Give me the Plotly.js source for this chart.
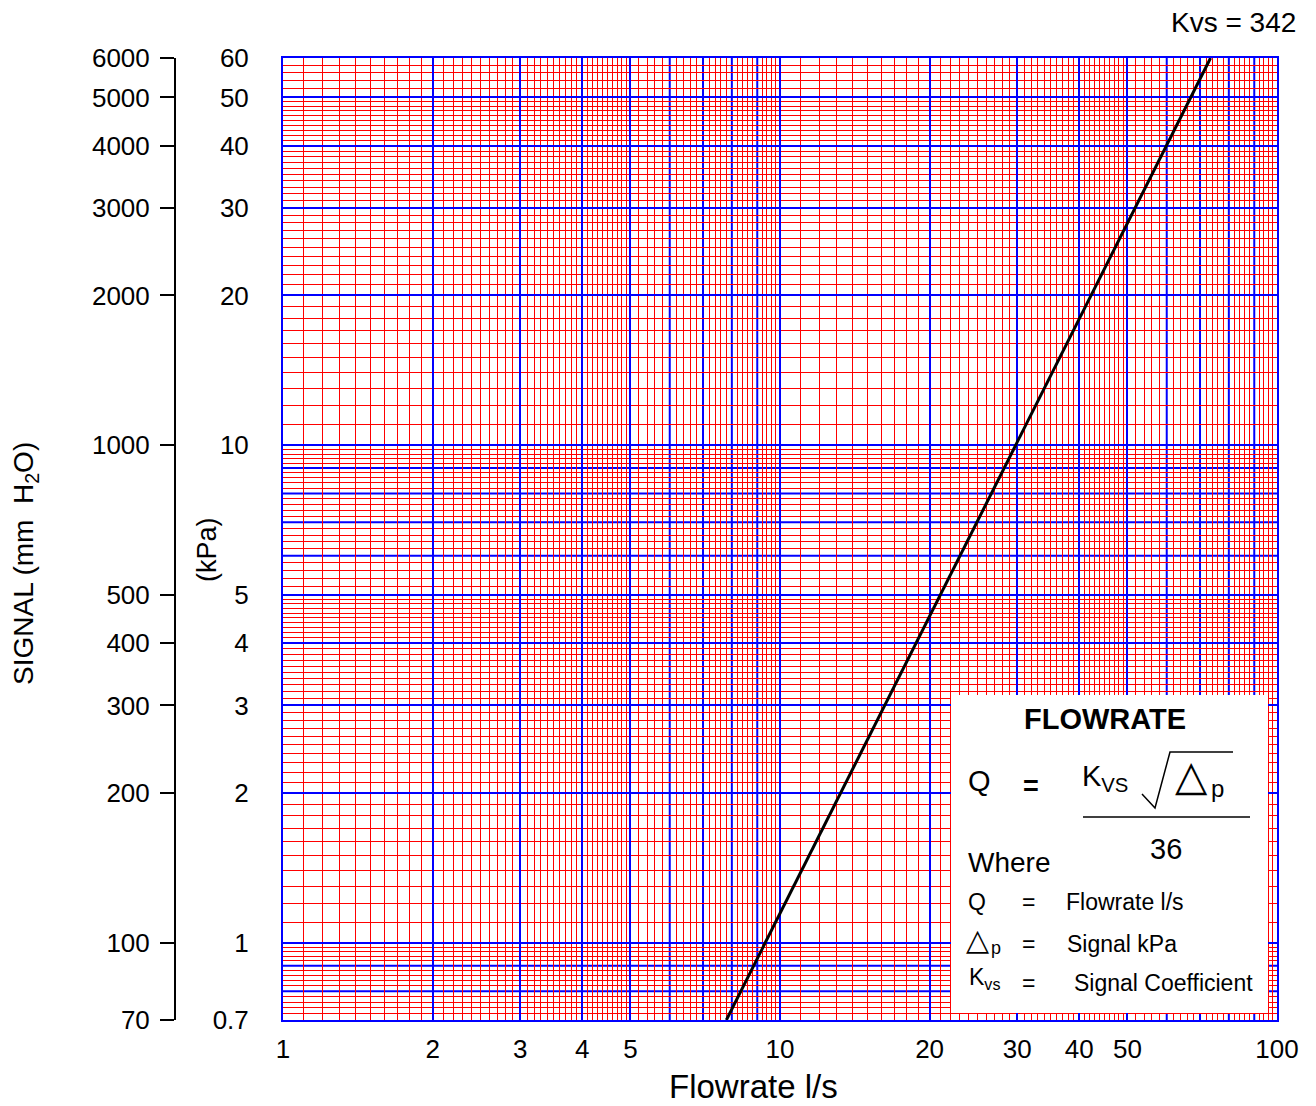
<!DOCTYPE html>
<html>
<head>
<meta charset="utf-8">
<script src="https://cdn.plot.ly/plotly-3.0.1.min.js"></script>
<style>html,body{margin:0;padding:0;background:#fff;}#chart{width:1316px;height:1106px;}</style>
</head>
<body>
<div id="chart"></div>
<script>
// ---- data ----
const flowX   = [7.8, 73.5];     // flowrate l/s at the two ends of the Kvs = 342 line
const flowKpa = [0.7, 60];       // signal kPa at the same ends
const xTicks  = [1,2,3,4,5,10,20,30,40,50,100];              // labelled x ticks (blue lines)
const xBlueExtra = [6,7,8,9,60,70,80,90];                     // unlabelled blue x lines
const yTicks  = [0.7,1,2,3,4,5,10,20,30,40,50,60];            // labelled kPa ticks (blue lines)
const yBlueExtra = [0.8,0.9,6,7,8,9];                         // unlabelled blue kPa lines
const mmTicks = [70,100,200,300,400,500,1000,2000,3000,4000,5000,6000];
// minor (red) grid spacing per segment: [from, to, step]
const xMinorSegs = [[1,5,0.1],[5,10,0.2],[10,50,1],[50,100,2]];
const yMinorSegs = [[0.7,1,0.02],[1,5,0.1],[5,10,0.2],[10,50,1],[50,60,2]];

function minorVals(segs, majors){
  const out = [];
  segs.forEach(([a,b,s])=>{
    const n = Math.round((b-a)/s);
    for(let i=1;i<n;i++){
      const v = Math.round((a+i*s)*10000)/10000;
      if(!majors.some(m=>Math.abs(m-v)<1e-9)) out.push(v);
    }
  });
  return out;
}

// ---- pixel helpers for paper-referenced decorations ----
const W=1316,H=1106,ML=20,MR=39,MT=58,MB=86;
const PW=W-ML-MR, PH=H-MT-MB;
const px = x => (x-ML)/PW;
const py = y => 1-(y-MT)/PH;

const FONT = 'Liberation Sans, Arial, sans-serif';
const BLUE = 'rgb(0,0,255)', RED = 'rgb(255,0,0)';
const xMin = xTicks[0], xMax = xTicks[xTicks.length-1];
const yMin = yTicks[0], yMax = yTicks[yTicks.length-1];

const traces = [
  {x: flowX, y: flowKpa, type:'scatter', mode:'lines',
   line:{color:'#000', width:3}, hoverinfo:'skip', showlegend:false},
  {x: [xMin, xMin], y: [mmTicks[0], mmTicks[mmTicks.length-1]], yaxis:'y2',
   type:'scatter', mode:'markers', marker:{opacity:0}, hoverinfo:'skip', showlegend:false}
];

function ann(text, xp, yp, size, opts){
  return Object.assign({text:text, xref:'paper', yref:'paper', x:px(xp), y:py(yp),
    xanchor:'left', yanchor:'middle', showarrow:false,
    font:{family:FONT, size:size, color:'#000'}}, opts||{});
}

const annotations = [
  ann('Flowrate l/s', 753, 1086, 33, {xanchor:'center'}),
  ann('SIGNAL (mm  H<sub>2</sub>O)', 25, 564, 28, {xanchor:'center', textangle:-90}),
  ann('(kPa)', 207, 550, 27, {xanchor:'center', textangle:-90}),
  ann('Kvs = 342', 1233, 22, 28, {xanchor:'center'}),
  ann('<b>FLOWRATE</b>', 1105, 719, 29, {xanchor:'center'}),
  ann('Q', 966, 781, 29),
  ann('<b>=</b>', 1031, 786, 27, {xanchor:'center'}),
  ann('K<sub>VS</sub>', 1080, 778, 29),
  ann('\u25B3', 1191, 775, 42, {xanchor:'center'}),
  ann('p', 1209, 788, 24),
  ann('36', 1166, 849, 29, {xanchor:'center'}),
  ann('Where', 966, 862, 28),
  ann('Q', 966, 902, 23),
  ann('=', 1028, 902, 23, {xanchor:'center'}),
  ann('Flowrate l/s', 1064, 902, 23),
  ann('\u25B3', 977, 939, 30, {xanchor:'center'}),
  ann('p', 989, 948, 18),
  ann('=', 1028, 944, 23, {xanchor:'center'}),
  ann('Signal kPa', 1065, 944, 23),
  ann('K<sub>vs</sub>', 967, 978, 23),
  ann('=', 1028, 983, 23, {xanchor:'center'}),
  ann('Signal Coefficient', 1072, 983, 23)
];

const shapes = [];
// unlabelled blue grid lines, placed in data values through the axes' own log scales
xBlueExtra.forEach(v=>shapes.push({type:'line', xref:'x', yref:'y', layer:'below',
  x0:v, x1:v, y0:yMin, y1:yMax, line:{color:BLUE, width:2}}));
yBlueExtra.forEach(v=>shapes.push({type:'line', xref:'x', yref:'y', layer:'below',
  x0:xMin, x1:xMax, y0:v, y1:v, line:{color:BLUE, width:2}}));
// legend box with the formula
shapes.push(
  {type:'rect', xref:'paper', yref:'paper', x0:px(951), x1:px(1268), y0:py(1013), y1:py(695),
   fillcolor:'#fff', line:{width:0}, layer:'above'},
  {type:'path', xref:'paper', yref:'paper', layer:'above',
   path:'M'+px(1142)+','+py(794)+' L'+px(1155)+','+py(808)+' L'+px(1170)+','+py(752)+' L'+px(1233)+','+py(752),
   line:{color:'#000', width:1.5}},
  {type:'line', xref:'paper', yref:'paper', layer:'above', x0:px(1083), x1:px(1250), y0:py(817), y1:py(817),
   line:{color:'#000', width:1.5}}
);

const xAllBlue = xTicks.concat(xBlueExtra), yAllBlue = yTicks.concat(yBlueExtra);

const layout = {
  width:W, height:H, margin:{l:ML, r:MR, t:MT, b:MB},
  paper_bgcolor:'#fff', plot_bgcolor:'#fff', showlegend:false,
  font:{family:FONT, color:'#000'},
  xaxis:{type:'log', domain:[px(283),1], range:[Math.log10(xMin), Math.log10(xMax)],
    tickmode:'array', tickvals:xTicks, ticktext:xTicks.map(String), ticks:'', ticklabelstandoff:5,
    tickfont:{size:26, family:FONT, color:'#000'},
    showgrid:true, gridcolor:BLUE, gridwidth:2,
    minor:{tickmode:'array', tickvals:minorVals(xMinorSegs, xAllBlue), showgrid:true, gridcolor:RED, gridwidth:1, ticks:''},
    showline:true, linecolor:BLUE, linewidth:2, mirror:true, zeroline:false},
  yaxis:{type:'log', range:[Math.log10(yMin), Math.log10(yMax)],
    tickmode:'array', tickvals:yTicks, ticktext:yTicks.map(String), ticks:'', ticklabelstandoff:27,
    tickfont:{size:26, family:FONT, color:'#000'},
    showgrid:true, gridcolor:BLUE, gridwidth:2,
    minor:{tickmode:'array', tickvals:minorVals(yMinorSegs, yAllBlue), showgrid:true, gridcolor:RED, gridwidth:1, ticks:''},
    showline:true, linecolor:BLUE, linewidth:2, mirror:true, zeroline:false},
  yaxis2:{type:'log', overlaying:'y', anchor:'free', side:'left', position:px(175),
    range:[Math.log10(mmTicks[0]), Math.log10(mmTicks[mmTicks.length-1])],
    tickmode:'array', tickvals:mmTicks, ticktext:mmTicks.map(String),
    ticks:'outside', ticklen:14, tickwidth:2, tickcolor:'#000', ticklabelstandoff:5,
    tickfont:{size:26, family:FONT, color:'#000'},
    showgrid:false, zeroline:false, showline:true, linecolor:'#000', linewidth:2},
  annotations:annotations,
  shapes:shapes
};

Plotly.newPlot('chart', traces, layout, {staticPlot:true, displayModeBar:false});
</script>
</body>
</html>
